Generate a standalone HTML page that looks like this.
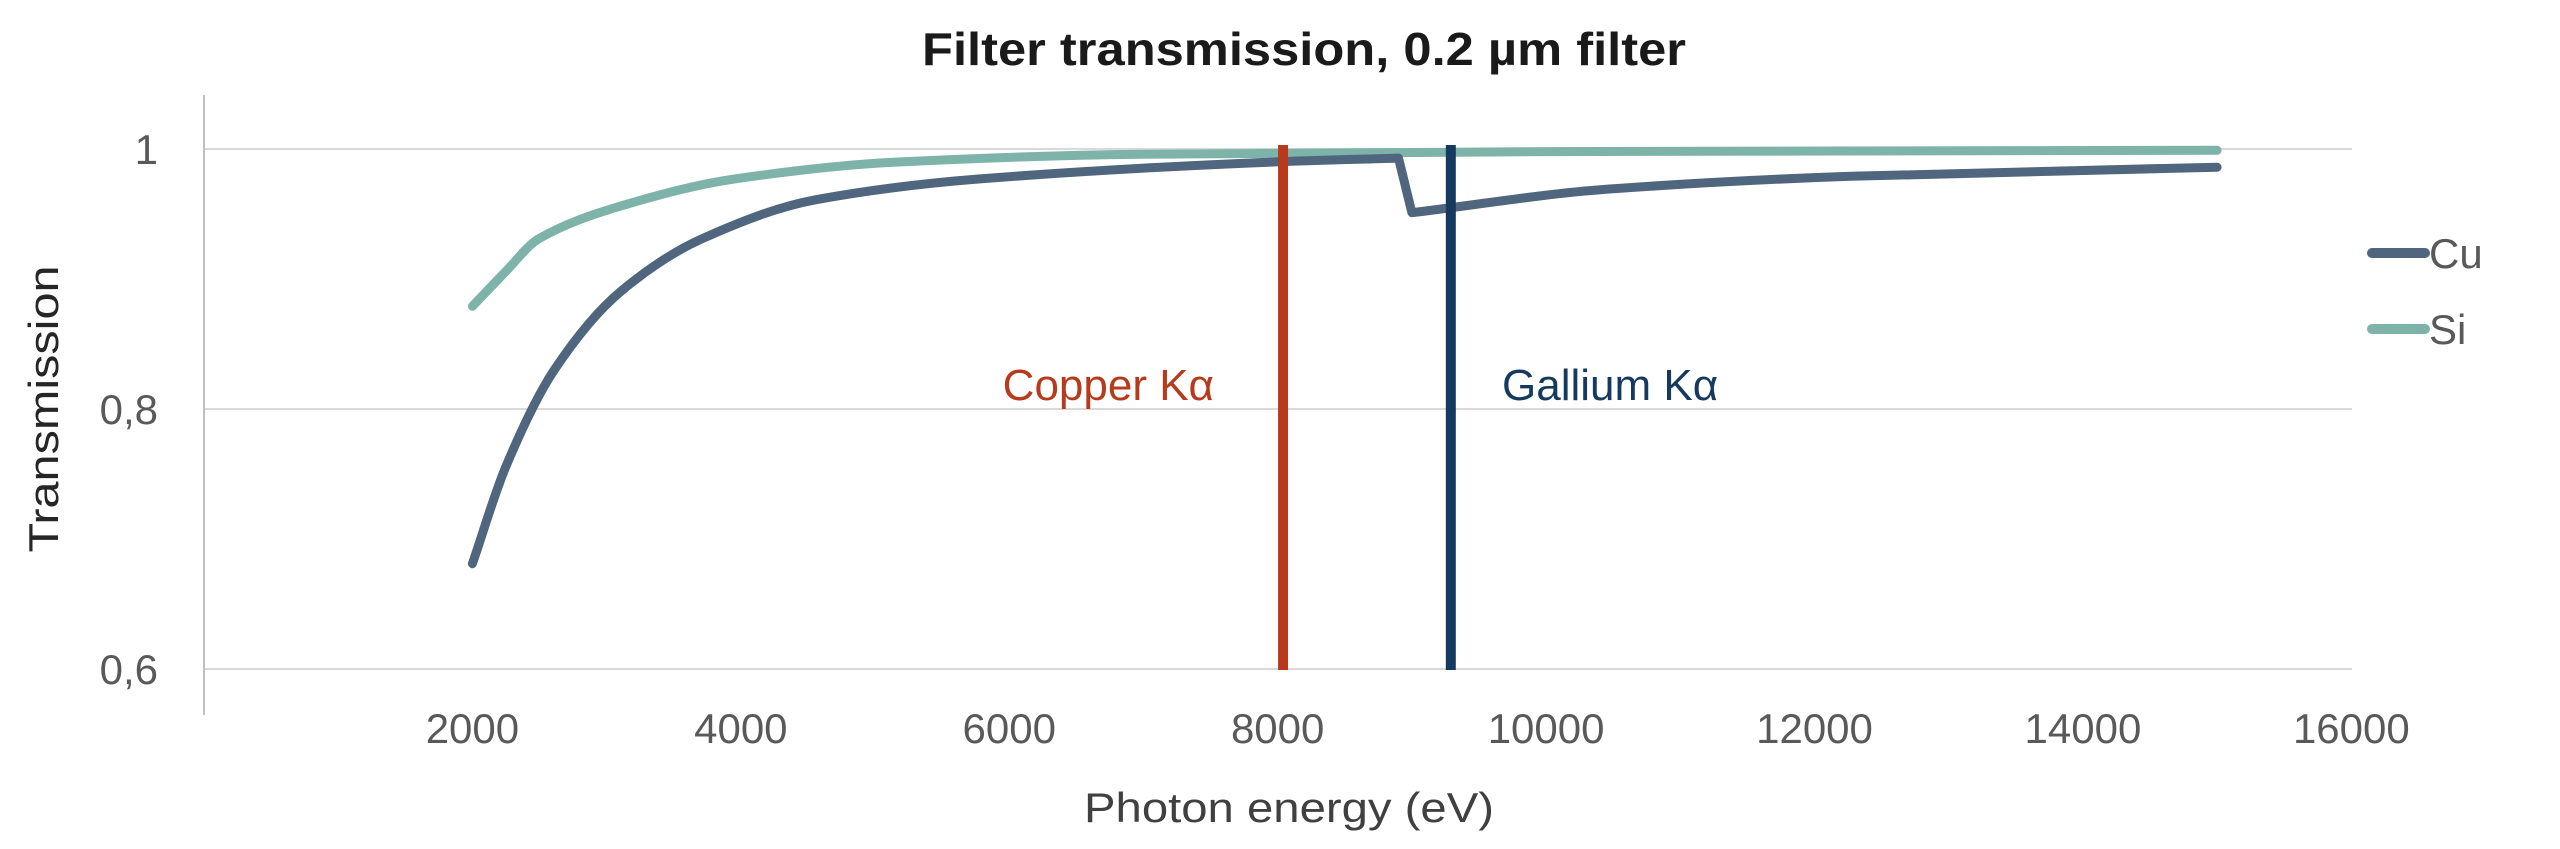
<!DOCTYPE html>
<html><head><meta charset="utf-8"><style>
html,body{margin:0;padding:0;background:#fff;width:2560px;height:849px;overflow:hidden}
svg text{font-family:"Liberation Sans",sans-serif}
</style></head><body>
<svg id="chart" width="2560" height="849" xmlns="http://www.w3.org/2000/svg">
<text x="1304" y="65" text-anchor="middle" font-size="46" font-weight="bold" fill="#1a1a1a" textLength="764" lengthAdjust="spacingAndGlyphs">Filter transmission, 0.2 µm filter</text>
<text x="0" y="0" transform="translate(58,409) rotate(-90)" text-anchor="middle" font-size="42" fill="#262626" textLength="287" lengthAdjust="spacingAndGlyphs">Transmission</text>
<text x="1289" y="822" text-anchor="middle" font-size="42" fill="#404040" textLength="410" lengthAdjust="spacingAndGlyphs">Photon energy (eV)</text>
<g id="grid"></g><g id="series"></g><g id="markers"></g>
<g>
<line x1="2372" y1="253" x2="2425" y2="253" stroke="#50667f" stroke-width="10" stroke-linecap="round"/>
<text x="2429" y="268" font-size="42" fill="#595959">Cu</text>
<line x1="2372" y1="329" x2="2425" y2="329" stroke="#7db3a9" stroke-width="10" stroke-linecap="round"/>
<text x="2429" y="344" font-size="42" fill="#595959">Si</text>
</g>
</svg>
<script>
const xTicks=[2000,4000,6000,8000,10000,12000,14000,16000];
const yTicks=[0.6,0.8,1];
const yTickLabels=["0,6","0,8","1"];
const cuEnergy=[2000,2250,2616,3100,3711,4560,5782,7967,8900,9000,10447,12272,15000];
const cuValues=[0.681,0.756,0.831,0.890,0.931,0.961,0.977,0.990,0.993,0.951,0.969,0.979,0.986];
const siEnergy=[2000,2250,2495,3100,3955,5170,7000,10000,15000];
const siValues=[0.879,0.906,0.931,0.956,0.977,0.990,0.996,0.998,0.999];
const markerEnergy=[8040,9290];
const markerLabels=["Copper Kα","Gallium Kα"];
const NS="http://www.w3.org/2000/svg";
function X(v){return 204+v*0.13421;}
function Y(v){return 149+(1-v)*1300;}
function mk(tag,attrs,parent){const e=document.createElementNS(NS,tag);for(const k in attrs)e.setAttribute(k,attrs[k]);parent.appendChild(e);return e;}
const grid=document.getElementById('grid');
yTicks.forEach((t,i)=>{
  const l=mk('line',{x1:204,x2:2352,y1:Y(t),y2:Y(t),stroke:'#d9d9d9','stroke-width':2},grid);
  
  
  const tx=mk('text',{x:158,y:Y(t)+15,'text-anchor':'end','font-size':42,fill:'#595959'},grid);
  tx.textContent=yTickLabels[i];
  
  
});
const ax=mk('line',{x1:204,x2:204,y1:95,y2:715,stroke:'#bfbfbf','stroke-width':2},grid);


xTicks.forEach(t=>{
  const tx=mk('text',{x:X(t),y:743,'text-anchor':'middle','font-size':42,fill:'#595959'},grid);
  tx.textContent=t;
  
  
});
// monotone cubic path; segments where value drops are drawn straight
function path(xs,ys){
  const px=xs.map(X), py=ys.map(Y), n=px.length;
  const d=[],m=[];
  for(let i=0;i<n-1;i++)d.push((py[i+1]-py[i])/(px[i+1]-px[i]));
  const brk=i=>ys[i+1]<ys[i]-0.02;
  for(let i=0;i<n;i++){
    const a=i>0&&!brk(i-1)?d[i-1]:null, b=i<n-1&&!brk(i)?d[i]:null;
    if(a===null&&b===null)m.push(0);
    else if(a===null)m.push(b);
    else if(b===null)m.push(a);
    else m.push(a*b<=0?0:2/(1/a+1/b));
  }
  let s='M'+px[0].toFixed(1)+' '+py[0].toFixed(1);
  for(let i=0;i<n-1;i++){
    if(brk(i)){s+=' L'+px[i+1].toFixed(1)+' '+py[i+1].toFixed(1);continue;}
    const h=(px[i+1]-px[i])/3;
    s+=' C'+(px[i]+h).toFixed(1)+' '+(py[i]+m[i]*h).toFixed(1)+' '+(px[i+1]-h).toFixed(1)+' '+(py[i+1]-m[i+1]*h).toFixed(1)+' '+px[i+1].toFixed(1)+' '+py[i+1].toFixed(1);
  }
  return s;
}
const ser=document.getElementById('series');
const si=mk('path',{d:path(siEnergy,siValues),fill:'none',stroke:'#7db3a9','stroke-width':9,'stroke-linecap':'round','stroke-linejoin':'round'},ser);


const cu=mk('path',{d:path(cuEnergy,cuValues),fill:'none',stroke:'#50667f','stroke-width':9,'stroke-linecap':'round','stroke-linejoin':'round'},ser);


const mg=document.getElementById('markers');
const mColors=['#b83a1c','#163a5f'];
const labelX=[1214,1502];
const anchors=['end','start'];
markerEnergy.forEach((e,i)=>{
  const l=mk('line',{x1:X(e),x2:X(e),y1:145,y2:670,stroke:mColors[i],'stroke-width':10},mg);
  
  
  const t=mk('text',{x:labelX[i],y:400,'text-anchor':anchors[i],'font-size':44,fill:mColors[i]},mg);
  t.textContent=markerLabels[i];
  
  
});
</script>
</body></html>
